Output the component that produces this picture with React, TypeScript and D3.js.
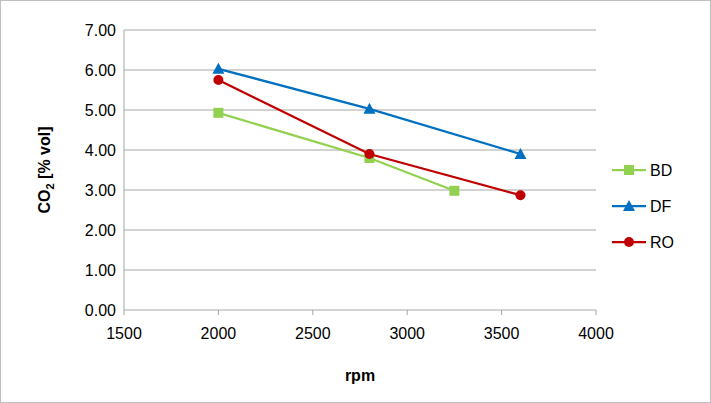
import React from "react";
import * as d3 from "d3";

const xTicks = [1500, 2000, 2500, 3000, 3500, 4000];
const yTicks = [0, 1, 2, 3, 4, 5, 6, 7];
const bdX = [2000, 2800, 3250];
const bdY = [4.93, 3.8, 2.98];
const dfX = [2000, 2800, 3600];
const dfY = [6.03, 5.03, 3.9];
const roX = [2000, 2800, 3600];
const roY = [5.75, 3.9, 2.87];
const seriesNames = ["BD", "DF", "RO"];
const colors = ["#92d050", "#0070c0", "#c00000"];

export default function App() {
  const W = 711, H = 403;
  const x = d3.scaleLinear().domain([1500, 4000]).range([124, 596]);
  const y = d3.scaleLinear().domain([0, 7]).range([310, 30]);
  const line = d3.line<[number, number]>().x(d => x(d[0])).y(d => y(d[1]));
  const data = [
    bdX.map((v, i) => [v, bdY[i]] as [number, number]),
    dfX.map((v, i) => [v, dfY[i]] as [number, number]),
    roX.map((v, i) => [v, roY[i]] as [number, number]),
  ];
  const font = "'Liberation Sans', Arial, sans-serif";
  const marker = (k: number, cx: number, cy: number, key: string) => {
    if (k === 0) return <rect key={key} x={cx - 5} y={cy - 5} width={10} height={10} fill={colors[0]} />;
    if (k === 1) return <path key={key} d={`M${cx},${cy - 6}L${cx + 6},${cy + 5}L${cx - 6},${cy + 5}Z`} fill={colors[1]} />;
    return <circle key={key} cx={cx} cy={cy} r={5} fill={colors[2]} />;
  };
  return (
    <svg width={W} height={H} style={{ position: "absolute", left: 0, top: 0, background: "#fff" }} fontFamily={font}>
      <rect x={0.5} y={0.5} width={W - 1} height={H - 1} fill="none" stroke="#bfbfbf" />
      {yTicks.map(t => (
        <g key={t}>
          <line x1={124} x2={596} y1={y(t)} y2={y(t)} stroke="#a6a6a6" />
          <text x={116} y={y(t)} dy="0.35em" textAnchor="end" fontSize={16} fill="#000">{t.toFixed(2)}</text>
        </g>
      ))}
      <line x1={124} x2={124} y1={30} y2={310} stroke="#a6a6a6" />
      {xTicks.map(t => (
        <g key={t}>
          <line x1={x(t)} x2={x(t)} y1={310} y2={315} stroke="#a6a6a6" />
          <text x={x(t)} y={339} textAnchor="middle" fontSize={16} fill="#000">{t}</text>
        </g>
      ))}
      <text x={360} y={381} textAnchor="middle" fontSize={16} fontWeight="bold">rpm</text>
      <text transform="translate(50,170) rotate(-90)" textAnchor="middle" fontSize={16} fontWeight="bold">
        CO<tspan fontSize={11} dy={4}>2</tspan><tspan dy={-4}> [% vol]</tspan>
      </text>
      {data.map((d, k) => (
        <g key={k}>
          <path d={line(d) || ""} fill="none" stroke={colors[k]} strokeWidth={2.25} />
          {d.map((p, i) => marker(k, x(p[0]), y(p[1]), `${k}-${i}`))}
        </g>
      ))}
      {seriesNames.map((n, k) => {
        const ly = 170 + k * 36;
        return (
          <g key={n}>
            <line x1={612} x2={646} y1={ly} y2={ly} stroke={colors[k]} strokeWidth={2.25} />
            {marker(k, 629, ly, "l" + k)}
            <text x={650} y={ly} dy="0.35em" fontSize={16}>{n}</text>
          </g>
        );
      })}
    </svg>
  );
}
